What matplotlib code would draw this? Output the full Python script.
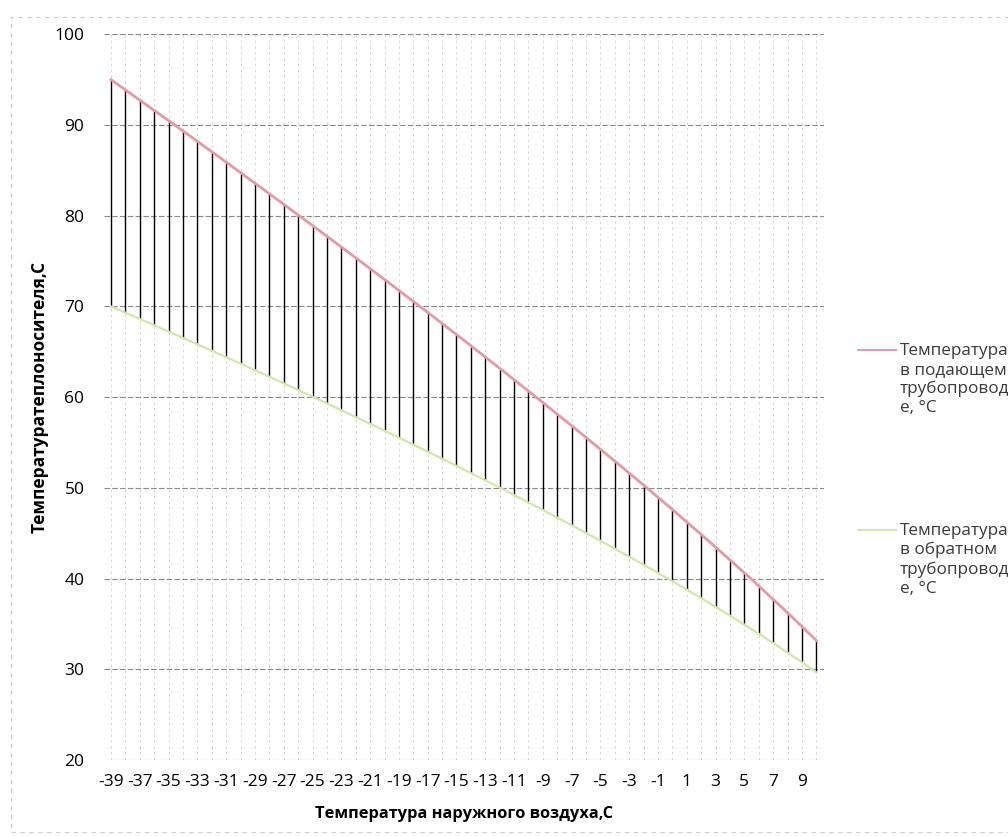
import matplotlib
matplotlib.use("Agg")
import matplotlib.pyplot as plt
from matplotlib.patches import Rectangle
from matplotlib.lines import Line2D

plt.rcParams['font.family'] = ['Open Sans', 'DejaVu Sans']

# outdoor air temperature, C (categories)
t_out = list(range(-39, 11))
# supply pipe temperature, C
t_supply = [95.0, 93.87, 92.74, 91.61, 90.48, 89.34, 88.19, 87.05, 85.90, 84.74,
            83.58, 82.42, 81.26, 80.08, 78.91, 77.73, 76.55, 75.36, 74.16, 72.97,
            71.76, 70.55, 69.34, 68.12, 66.89, 65.66, 64.42, 63.18, 61.92, 60.67,
            59.40, 58.12, 56.84, 55.55, 54.25, 52.94, 51.62, 50.29, 48.95, 47.60,
            46.23, 44.85, 43.46, 42.05, 40.62, 39.18, 37.71, 36.22, 34.71, 33.16]
# return pipe temperature, C
t_return = [70.0, 69.31, 68.62, 67.93, 67.23, 66.53, 65.82, 65.12, 64.40, 63.69,
            62.97, 62.25, 61.52, 60.79, 60.05, 59.31, 58.56, 57.81, 57.06, 56.30,
            55.53, 54.76, 53.99, 53.21, 52.42, 51.62, 50.82, 50.02, 49.21, 48.38,
            47.56, 46.72, 45.88, 45.02, 44.16, 43.29, 42.41, 41.52, 40.62, 39.70,
            38.78, 37.83, 36.88, 35.91, 34.92, 33.91, 32.88, 31.83, 30.76, 29.66]

lbl_supply = "Температура\nв подающем\nтрубопровод\nе, °С"
lbl_return = "Температура\nв обратном\nтрубопровод\nе, °С"
col_supply = "#e39aa5"
col_return = "#cfe8a8"

fig = plt.figure(figsize=(10.08, 8.36), dpi=100)
ax = fig.add_axes([0.103, 0.091, 0.714, 0.868])

pos = list(range(len(t_out)))

# high-low lines
ax.vlines(pos, t_return, t_supply, color="black", linewidth=1.0, zorder=2)
ax.plot(pos, t_supply, color=col_supply, linewidth=2.0, zorder=3)
ax.plot(pos, t_return, color=col_return, linewidth=1.6, zorder=3)

ax.set_xlim(-0.5, len(t_out) - 0.5)
ax.set_ylim(20, 100)
ax.set_yticks(range(20, 101, 10))
ax.set_xticks(pos[::2])
ax.set_xticklabels([str(v) for v in t_out[::2]], fontsize=12.5)
ax.tick_params(axis="y", labelsize=12.5, length=0, pad=14)
ax.tick_params(axis="x", length=0, pad=10)

# grid
ax.grid(axis="y", color="#8a8a8a", linestyle=(0, (5, 2)), linewidth=0.8, zorder=0)
for p in pos:
    ax.axvline(p, color="#d0d0d0", linestyle=(0, (3, 4)), linewidth=0.6, zorder=0)
for s in ax.spines.values():
    s.set_visible(False)

ax.set_xlabel("Температура наружного воздуха,С", fontsize=11.8, fontweight="bold", labelpad=12)
ax.set_ylabel("Температуратеплоносителя,С", fontsize=12.5, fontweight="bold", labelpad=4)

# legend on the right, handle level with the first text line
for y_px, col, lbl in [(350, col_supply, lbl_supply), (530, col_return, lbl_return)]:
    yf = 1 - y_px / 836
    fig.add_artist(Line2D([858 / 1008, 896 / 1008], [yf, yf], color=col, linewidth=1.4))
    fig.text(900 / 1008, yf + 7 / 836, lbl, fontsize=12.3, color="#3a3a3a",
             va="top", ha="left", linespacing=1.25)

# faint outer frame of the chart
fig.patches.append(Rectangle((0.011, 0.005), 1.1, 0.975, transform=fig.transFigure,
                             fill=False, edgecolor="#cccccc", linewidth=0.8,
                             linestyle=(0, (4, 4))))

fig.savefig("out.png", dpi=100)
